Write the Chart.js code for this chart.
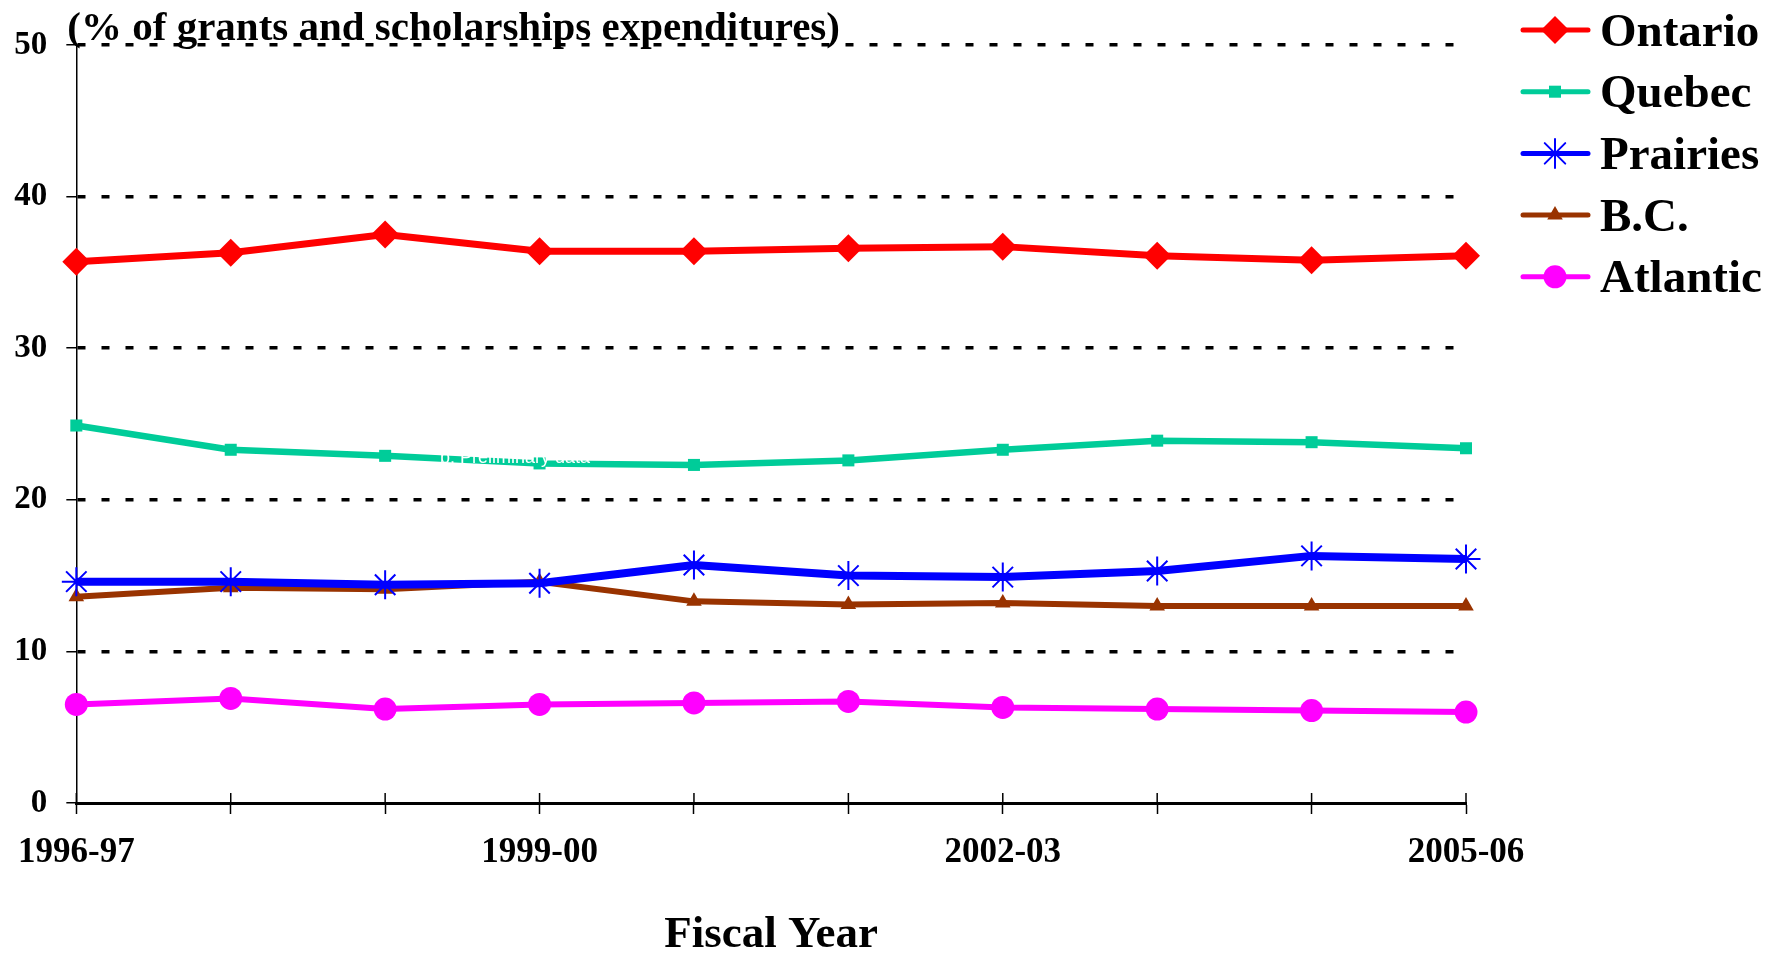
<!DOCTYPE html>
<html>
<head>
<meta charset="utf-8">
<title>Grants and scholarships by region</title>
<script src="https://cdn.jsdelivr.net/npm/chart.js@4.4.0/dist/chart.umd.min.js"></script>
<style>
  body { margin: 0; background: #fff; }
</style>
</head>
<body>
<canvas id="line" width="1778" height="953"></canvas>
<script>
var years = ["1996-97", "1997-98", "1998-99", "1999-00", "2000-01", "2001-02", "2002-03", "2003-04", "2004-05", "2005-06"];
var shownYears = ["1996-97", "1999-00", "2002-03", "2005-06"];
var yTicks = [0, 10, 20, 30, 40, 50];

var ontario  = [35.7, 36.3, 37.5, 36.4, 36.4, 36.6, 36.7, 36.1, 35.8, 36.1];
var quebec   = [24.9, 23.3, 22.9, 22.4, 22.3, 22.6, 23.3, 23.9, 23.8, 23.4];
var prairies = [14.6, 14.6, 14.4, 14.5, 15.7, 15.0, 14.9, 15.3, 16.3, 16.1];
var bc       = [13.6, 14.2, 14.1, 14.6, 13.3, 13.1, 13.2, 13.0, 13.0, 13.0];
var atlantic = [6.5, 6.9, 6.2, 6.5, 6.6, 6.7, 6.3, 6.2, 6.1, 6.0];

var yTitle = "(% of grants and scholarships expenditures)";
var xTitle = "Fiscal Year";
var note = "p: Preliminary data";

var serif = "'Liberation Serif', 'Times New Roman', serif";

function series(label, data, color, style, radius, width, pointBorder) {
  return {
    label: label,
    data: data,
    borderColor: color,
    backgroundColor: color,
    pointBackgroundColor: color,
    pointBorderColor: color,
    pointStyle: style,
    pointRadius: radius,
    pointBorderWidth: pointBorder,
    borderWidth: width,
    borderJoinStyle: "round",
    tension: 0,
    fill: false,
    clip: false
  };
}

// draws the titles, the legend (line + marker) and the inner half of the x ticks
var extras = {
  id: "extras",
  afterDatasetsDraw: function (chart) {
    var ctx = chart.ctx;
    ctx.save();
    ctx.fillStyle = "#fff";
    ctx.font = "18px 'Liberation Sans', sans-serif";
    ctx.fillText(note, 440, 463);
    ctx.restore();
  },
  afterDraw: function (chart) {
    var ctx = chart.ctx, area = chart.chartArea, xs = chart.scales.x;
    ctx.save();
    ctx.strokeStyle = "#000";
    ctx.lineWidth = 1.5;
    xs.ticks.forEach(function (t, i) {
      var px = xs.getPixelForTick(i);
      ctx.beginPath();
      ctx.moveTo(px, area.bottom);
      ctx.lineTo(px, area.bottom - 10);
      ctx.stroke();
    });

    ctx.fillStyle = "#000";
    ctx.textBaseline = "alphabetic";
    ctx.textAlign = "left";
    ctx.font = "bold 41px " + serif;
    ctx.fillText(yTitle, area.left - 9, 40);
    ctx.textAlign = "center";
    ctx.font = "bold 45px " + serif;
    ctx.fillText(xTitle, (area.left + area.right) / 2, 947);

    ctx.textAlign = "left";
    chart.data.datasets.forEach(function (ds, i) {
      var y = 30 + i * 61.7;
      ctx.strokeStyle = ds.borderColor;
      ctx.lineWidth = 5;
      ctx.lineCap = "round";
      ctx.beginPath();
      ctx.moveTo(1523, y);
      ctx.lineTo(1588, y);
      ctx.stroke();
      if (Chart.helpers && Chart.helpers.drawPoint) {
        ctx.fillStyle = ds.borderColor;
        ctx.lineWidth = ds.pointBorderWidth;
        Chart.helpers.drawPoint(ctx, {
          pointStyle: ds.pointStyle,
          radius: ds.pointRadius,
          borderWidth: ds.pointBorderWidth,
          rotation: 0
        }, 1555, y);
      }
      ctx.fillStyle = "#000";
      ctx.font = "bold 47px " + serif;
      ctx.fillText(ds.label, 1600, y + 15.5);
    });
    ctx.restore();
  }
};

new Chart("line", {
  type: "line",
  data: {
    labels: years,
    datasets: [
      series("Ontario", ontario, "#ff0000", "rectRot", 14, 7, 0),
      series("Quebec", quebec, "#00cc99", "rect", 8.5, 6.5, 0),
      series("Prairies", prairies, "#0000ff", "star", 14.5, 8, 2),
      series("B.C.", bc, "#993300", "triangle", 9, 6, 0),
      series("Atlantic", atlantic, "#ff00ff", "circle", 11.5, 6, 0)
    ]
  },
  options: {
    responsive: false,
    animation: false,
    events: [],
    layout: { padding: { left: 0, right: 312, top: 45, bottom: 61 } },
    plugins: {
      legend: { display: false },
      title: { display: false },
      tooltip: { enabled: false }
    },
    scales: {
      x: {
        grid: { drawOnChartArea: false, drawTicks: true, tickLength: 11, tickColor: "#000", tickWidth: 1.5 },
        border: { color: "#000", width: 3 },
        ticks: {
          autoSkip: false,
          maxRotation: 0,
          padding: 18,
          color: "#000",
          font: { family: serif, size: 35, weight: "bold" },
          callback: function (v, i) {
            return shownYears.indexOf(years[i]) >= 0 ? years[i] : "";
          }
        }
      },
      y: {
        min: 0,
        max: 50,
        afterBuildTicks: function (scale) {
          scale.ticks = yTicks.map(function (v) { return { value: v }; });
        },
        afterFit: function (scale) {
          scale.width = 74;
        },
        grid: {
          color: function (c) {
            return c.tick && c.tick.value === 0 ? "rgba(0,0,0,0)" : "#000";
          },
          lineWidth: 3.5,
          tickColor: "#000",
          tickWidth: 1.5,
          tickLength: 10,
          tickBorderDash: []
        },
        border: { color: "#000", width: 1.5, dash: [8, 16] },
        ticks: {
          padding: 19,
          color: "#000",
          font: { family: serif, size: 33, weight: "bold" }
        }
      }
    }
  },
  plugins: [extras]
});
</script>
</body>
</html>
